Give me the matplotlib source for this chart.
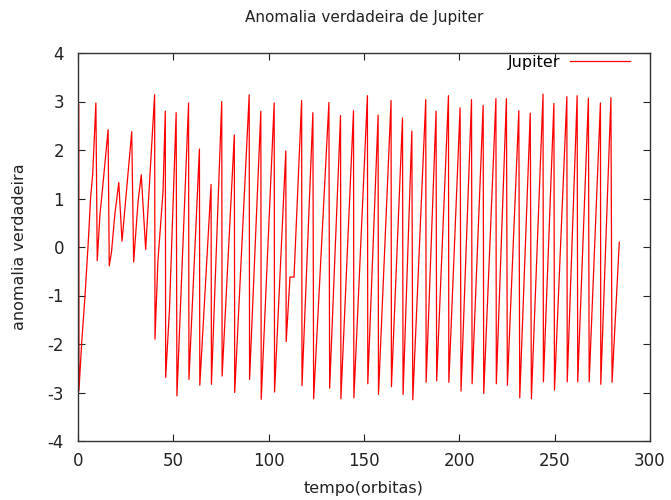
import numpy as np
import matplotlib
matplotlib.use("Agg")
import matplotlib.pyplot as plt

# tempo (orbitas) e anomalia verdadeira (rad) de Jupiter
tempo = [
    0.4, 0.5, 1.9, 3.7, 5.4, 6.6, 7.7, 9.4, 10.1, 11.5, 12.9, 15.8,
    16.4, 17.6, 19.3, 21.4, 23.1, 28.2, 29.2, 31.5, 33.2, 35.5, 40.2,
    40.4, 41.9, 44.6, 45.8, 46.0, 48.0, 51.5, 51.9, 58.0, 58.2, 63.7,
    63.9, 69.8, 70.0, 75.4, 75.6, 82.0, 82.2, 89.8, 90.0, 95.9, 96.1,
    102.9, 103.1, 109.0, 109.2, 111.2, 113.3, 117.3, 117.5, 123.2, 123.6,
    131.6, 132.0, 137.7, 137.9, 144.5, 144.7, 151.8, 152.0, 157.4, 157.6,
    164.2, 164.4, 170.2, 170.5, 175.1, 175.6, 182.4, 182.6, 187.8, 188.1,
    194.3, 194.5, 200.4, 200.9, 206.4, 206.7, 212.5, 212.8, 219.2, 219.4,
    224.7, 225.2, 231.2, 231.7, 237.2, 237.8, 243.9, 244.1, 249.6, 249.9,
    256.4, 256.6, 261.8, 262.1, 267.7, 268.1, 274.0, 274.2, 279.5, 280.1,
    283.9,
]
anomalia = [
    2.93, -2.97, -2.0, -1.0, 0.1, 1.0, 1.49, 2.97, -0.28, 0.66, 1.21, 2.42,
    -0.39, -0.10, 0.66, 1.33, 0.12, 2.38, -0.31, 0.93, 1.49, -0.05, 3.14,
    -1.9, -0.31, 1.14, 2.8, -2.69, -1.28, 2.77, -3.07, 2.97, -2.73, 2.02,
    -2.85, 1.29, -2.83, 3.0, -2.66, 2.31, -3.0, 3.14, -2.73, 2.8, -3.14,
    2.97, -2.99, 1.98, -1.95, -0.62, -0.62, 3.02, -2.86, 2.77, -3.13,
    2.98, -2.91, 2.71, -3.13, 2.81, -3.11, 3.12, -2.82, 2.72, -3.04,
    3.02, -2.88, 2.66, -3.04, 2.39, -3.15, 3.04, -2.79, 2.8, -2.76,
    3.12, -2.79, 2.87, -2.97, 3.04, -2.82, 2.92, -3.02, 3.06, -2.82,
    3.06, -2.85, 2.81, -3.11, 2.76, -3.13, 3.15, -2.78, 2.96, -2.95,
    3.1, -2.78, 3.12, -2.78, 3.07, -2.78, 2.97, -2.83, 3.08, -2.79,
    0.1,
]

xticks = [0, 50, 100, 150, 200, 250, 300]
yticks = [-4, -3, -2, -1, 0, 1, 2, 3, 4]

plt.rcParams['font.family'] = ['DejaVu Sans']
plt.rcParams['axes.unicode_minus'] = False

fig = plt.figure(figsize=(6.71, 5.0), dpi=100)
ax = fig.add_axes([0.1162, 0.118, 0.8525, 0.776])

ax.plot(tempo, anomalia, color='#ff0000', lw=0.9, label='Jupiter')

ax.set_xlim(0, 300)
ax.set_ylim(-4, 4)
ax.set_xticks(xticks)
ax.set_yticks(yticks)
ax.tick_params(axis='both', direction='in', length=5, width=0.8,
               top=True, right=True, labelsize=12, colors='#222222')
ax.tick_params(axis='y', pad=10)
ax.tick_params(axis='x', pad=8)
for s in ax.spines.values():
    s.set_linewidth(1.0)
    s.set_color('#333333')

ax.set_title('Anomalia verdadeira de Jupiter', fontsize=11, pad=22,
             color='#222222')
ax.set_xlabel('tempo(orbitas)', fontsize=11.5, labelpad=8, color='#222222')
ax.set_ylabel('anomalia verdadeira', fontsize=11.5, labelpad=15,
              color='#222222')

leg = ax.legend(loc='upper right', bbox_to_anchor=(0.965, 0.995),
                frameon=False, markerfirst=False, handlelength=3.75,
                fontsize=11.5, borderaxespad=0, borderpad=0,
                handletextpad=0.6)

fig.savefig('out.png', dpi=100)
